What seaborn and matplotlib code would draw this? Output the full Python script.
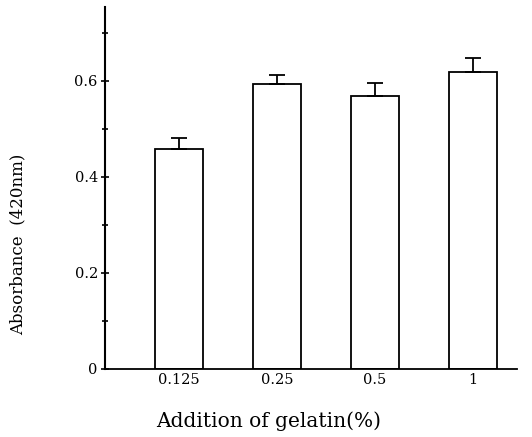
import numpy as np
import pandas as pd
import seaborn as sns
import matplotlib.pyplot as plt

# values
gelatin = ["0.125", "0.25", "0.5", "1"]
absorbance = [0.458, 0.594, 0.569, 0.619]
sd = [0.023, 0.018, 0.027, 0.029]

df = pd.DataFrame({"gelatin": gelatin, "absorbance": absorbance})

sns.set_theme(style="ticks")
plt.rcParams["font.family"] = ["DejaVu Serif", "Liberation Serif"]
plt.rcParams["text.color"] = "black"
plt.rcParams["axes.labelcolor"] = "black"
plt.rcParams["xtick.color"] = "black"
plt.rcParams["ytick.color"] = "black"

fig = plt.figure(figsize=(5.32, 4.37), dpi=100)
ax = fig.add_axes([0.197, 0.156, 0.775, 0.828])

sns.barplot(data=df, x="gelatin", y="absorbance", order=gelatin,
            color="white", edgecolor="black", linewidth=1.3,
            width=0.49, errorbar=None, ax=ax)

# only the upper half of the error bars is drawn
x = np.arange(len(gelatin))
ax.errorbar(x, absorbance, yerr=[np.zeros(len(sd)), sd], fmt="none",
            ecolor="black", elinewidth=1.3, capsize=6, capthick=1.3)

ax.set_xlim(-0.755, 3.45)
ax.set_ylim(0, 0.754)
ax.set_yticks([0, 0.2, 0.4, 0.6])
ax.set_yticklabels(["0", "0.2", "0.4", "0.6"])
ax.set_yticks([0.1, 0.3, 0.5, 0.7], minor=True)
ax.tick_params(axis="y", which="major", direction="inout", length=6,
               width=1.2, labelsize=10.5, pad=2)
ax.tick_params(axis="y", which="minor", direction="inout", length=5, width=1.2)
ax.tick_params(axis="x", length=0, labelsize=10.5, pad=3)

sns.despine(ax=ax)
ax.spines["left"].set_linewidth(1.5)
ax.spines["left"].set_color("black")
ax.spines["bottom"].set_linewidth(1.3)
ax.spines["bottom"].set_color("black")

ax.set_xlabel("Addition of gelatin(%)", fontsize=14.5)
ax.xaxis.set_label_coords(0.398, -0.117)
ax.set_ylabel("Absorbance  (420nm)", fontsize=12)
ax.yaxis.set_label_coords(-0.19, 0.343)

fig.savefig("out.png", dpi=100)
